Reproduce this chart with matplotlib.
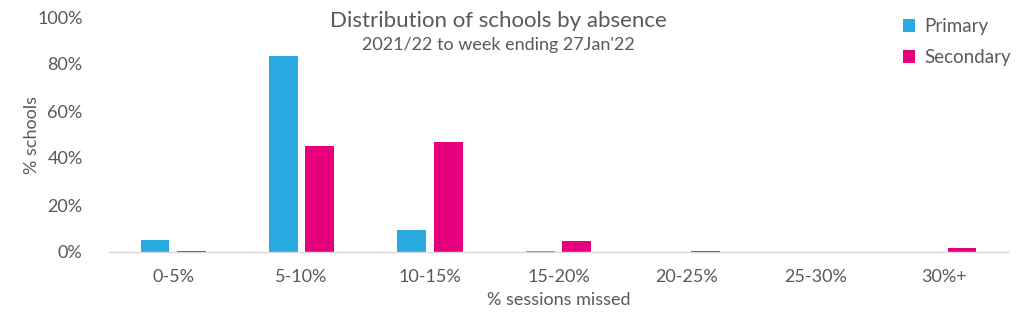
import matplotlib.pyplot as plt
import numpy as np

categories = ["0-5%", "5-10%", "10-15%", "15-20%", "20-25%", "25-30%", "30%+"]
primary = [5.3, 83.4, 9.2, 0.4, 0.0, 0.0, 0.0]
secondary = [0.3, 45.1, 46.8, 4.5, 0.3, 0.0, 1.5]
yticks = [0, 20, 40, 60, 80, 100]

plt.rcParams['font.family'] = ['Lato', 'DejaVu Sans']
grey = '#595959'
blue = '#29ABE2'
pink = '#E6007E'

fig = plt.figure(figsize=(10.24, 3.33), dpi=100)
ax = fig.add_axes([109/1024, 1-252/333, (1008-109)/1024, (252-17)/333])

x = np.arange(len(categories))
w = 0.225
ax.bar(x - 0.142, primary, width=w, color=blue, label='Primary')
ax.bar(x + 0.142, secondary, width=w, color=pink, label='Secondary')

ax.set_xlim(-0.5, len(categories) - 0.5)
ax.set_ylim(0, 100)
ax.set_yticks(yticks)
ax.set_yticklabels([f"{v}%" for v in yticks])
ax.set_xticks(x)
ax.set_xticklabels(categories)
ax.tick_params(axis='both', length=0, labelsize=13, labelcolor=grey)
ax.tick_params(axis='y', pad=19)
ax.tick_params(axis='x', pad=12)

for s in ['top', 'right', 'left']:
    ax.spines[s].set_visible(False)
ax.spines['bottom'].set_color('#D9D9D9')
ax.spines['bottom'].set_linewidth(1)

ax.set_xlabel('% sessions missed', fontsize=13, color=grey, labelpad=5)
ax.set_ylabel('% schools', fontsize=13, color=grey, labelpad=-2)

fig.text(498/1024, 1-21/333, 'Distribution of schools by absence', ha='center', va='center',
         fontsize=16, color=grey)
fig.text(498/1024, 1-45/333, "2021/22 to week ending 27Jan'22", ha='center', va='center',
         fontsize=13, color=grey)

leg = ax.legend(loc='upper left', bbox_to_anchor=(886/1024, 1-1/333), bbox_transform=fig.transFigure,
                frameon=False, fontsize=13.5, handlelength=0.65, handleheight=0.65, handletextpad=0.5,
                labelspacing=0.75)
for t in leg.get_texts():
    t.set_color(grey)

fig.savefig('out.png', dpi=100)
